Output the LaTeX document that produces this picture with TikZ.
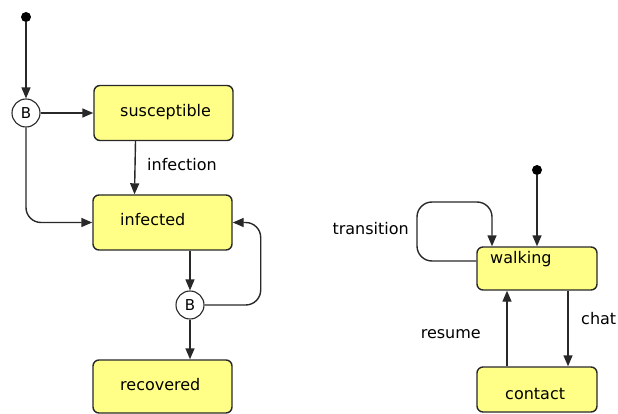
\documentclass[tikz,border=0pt]{standalone}
\usepackage{fontspec}
\setmainfont{DejaVu Sans}
\usetikzlibrary{arrows.meta}
\definecolor{boxfill}{RGB}{255,255,136}
\definecolor{edge}{RGB}{40,40,40}
\tikzset{
  box/.style={draw=edge, line width=1.4pt, fill=boxfill, rounded corners=6pt, inner sep=0pt},
  bnode/.style={circle, draw=edge, line width=1.1pt, fill=white, minimum size=28pt, inner sep=0pt, font=\fontsize{15}{17}\selectfont},
  initdot/.style={circle, fill=black, minimum size=10pt, inner sep=0pt},
  arr/.style={draw=edge, line width=1.4pt, -{Triangle[length=11pt,width=9pt]}},
  txt/.style={font=\fontsize{16}{18}\selectfont, inner sep=0pt},
}
\begin{document}
\begin{tikzpicture}[x=1pt,y=-1pt]
\useasboundingbox (0,0) rectangle (618,414);
% left machine
\node[initdot] (i1) at (26,17) {};
\node[bnode] (b1) at (26,113) {B};
\node[box, minimum width=139pt, minimum height=55pt] (sus) at (163.5,113) {};
\node[box, minimum width=139pt, minimum height=55pt] (inf) at (162.5,222.5) {};
\node[bnode] (b2) at (190,305) {B};
\node[box, minimum width=139pt, minimum height=53pt] (rec) at (162.5,386.5) {};
\node[txt, anchor=west] (tsus) at (120,112) {susceptible};
\node[txt, anchor=west] (tinf) at (120,220) {infected};
\node[txt, anchor=west] (trec) at (120,385) {recovered};
\node[txt, anchor=west] (linf) at (147,165) {infection};
\draw[arr] (i1) -- (b1);
\draw[arr] (b1) -- (sus);
\draw[arr] ([xshift=-28pt]sus.south) -- ([xshift=-28pt]inf.north);
\draw[arr, rounded corners=15pt] (b1) |- (inf.west);
\draw[arr] (b2 |- inf.south) -- (b2);
\draw[arr] (b2) -- (b2 |- rec.north);
\draw[arr, rounded corners=15pt] (b2) -| ([xshift=28pt]inf.east) -- (inf.east);
% right machine
\node[initdot] (i2) at (537,170) {};
\node[box, minimum width=120pt, minimum height=43pt] (walk) at (537,268.5) {};
\node[box, minimum width=120pt, minimum height=45pt] (cont) at (537,389.5) {};
\node[txt, anchor=west] (twalk) at (490,259) {walking};
\node[txt, anchor=west] (tcont) at (505,394) {contact};
\node[txt, anchor=east] (ltr) at (409,229) {transition};
\node[txt, anchor=east] (lres) at (481,334) {resume};
\node[txt, anchor=west] (lchat) at (581,319) {chat};
\draw[arr] (i2) -- (i2 |- walk.north);
\draw[arr, rounded corners=15pt] ([yshift=7.5pt]walk.west) -| (417,202) -| ([xshift=-45pt]walk.north);
\draw[arr] ([xshift=31pt]walk.south) -- ([xshift=31pt]cont.north);
\draw[arr] ([xshift=-30pt]cont.north) -- ([xshift=-30pt]walk.south);
\end{tikzpicture}
\end{document}
